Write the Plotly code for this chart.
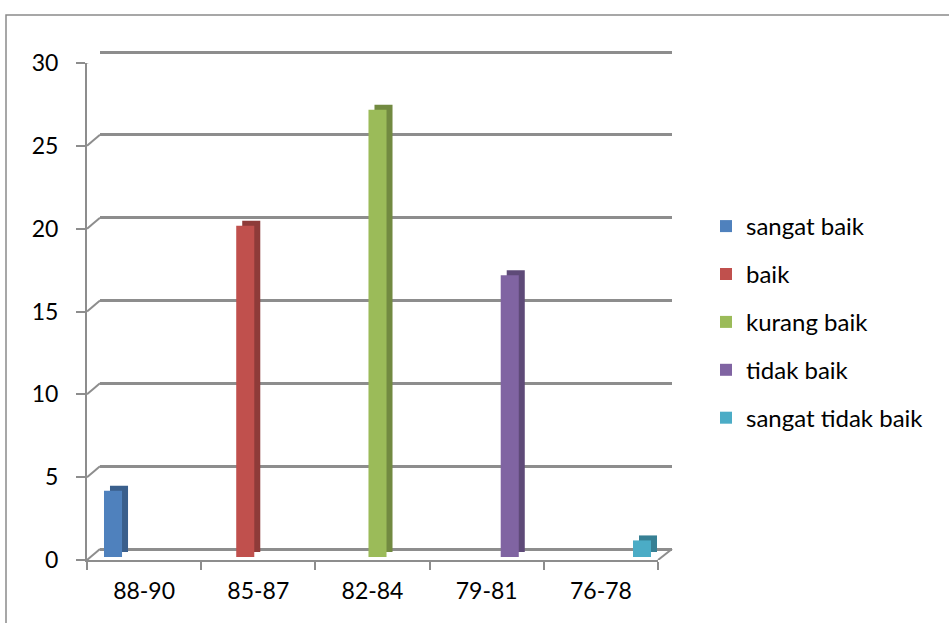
import plotly.graph_objects as go

# Score ranges and counts per rating
categories = ["88-90", "85-87", "82-84", "79-81", "76-78"]
series_names = ["sangat baik", "baik", "kurang baik", "tidak baik", "sangat tidak baik"]
sangat_baik = [4, None, None, None, None]
baik = [None, 20, None, None, None]
kurang_baik = [None, None, 27, None, None]
tidak_baik = [None, None, None, 17, None]
sangat_tidak_baik = [None, None, None, None, 1]
y_ticks = [0, 5, 10, 15, 20, 25, 30]

series_values = [sangat_baik, baik, kurang_baik, tidak_baik, sangat_tidak_baik]
face_colors = ["#4f81bd", "#c0504d", "#9bbb59", "#8064a2", "#4bacc6"]
side_colors = ["#3a5f8c", "#8e3b39", "#728a41", "#5e4a78", "#378094"]

W, H = 949, 623
FONT = "Lato"
GRID = "#8d8d8d"


def xdom(left, right):
    return [left / W, right / W]


def ydom(bottom_px, top_px):
    return [(H - bottom_px) / H, (H - top_px) / H]


fig = go.Figure()

# back wall grid subplot
fig.add_trace(go.Scatter(x=[], y=[], xaxis="x2", yaxis="y2", showlegend=False, hoverinfo="skip"))

# darker side/top faces of the columns (drawn behind, shifted right and up)
for name, vals, col in zip(series_names, series_values, side_colors):
    fig.add_trace(go.Bar(x=categories, y=vals, name=name, marker=dict(color=col, line=dict(width=0)),
                         xaxis="x3", yaxis="y3", showlegend=False, hoverinfo="skip"))

# front faces of the columns
for name, vals, col in zip(series_names, series_values, face_colors):
    fig.add_trace(go.Bar(x=categories, y=vals, name=name, marker=dict(color=col, line=dict(width=0)),
                         xaxis="x4", yaxis="y4", legendgroup=name))

# front axes holding ticks and labels
fig.add_trace(go.Scatter(x=categories, y=[None] * 5, xaxis="x", yaxis="y", showlegend=False, hoverinfo="skip"))

tickfont = dict(family=FONT, size=23, color="#000000")
hidden = dict(visible=False, showgrid=False, zeroline=False, fixedrange=True, automargin=False)

# back wall scale padded a little so the top gridline is kept
pad = 0.1
px_per_unit = (549 - 52) / 30

fig.update_layout(
    width=W, height=H,
    margin=dict(l=0, r=0, t=0, b=0, autoexpand=False),
    paper_bgcolor="white",
    plot_bgcolor="rgba(0,0,0,0)",
    barmode="group",
    bargap=0.21,
    bargroupgap=0,
    showlegend=True,
    legend=dict(
        x=706 / W, y=(H - 204) / H, xanchor="left", yanchor="top",
        font=dict(family=FONT, size=24, color="#000000"),
        tracegroupgap=13.7, traceorder="grouped",
        bgcolor="rgba(0,0,0,0)",
    ),
    xaxis=dict(
        domain=xdom(87, 658), anchor="y", type="category", range=[-0.5, 4.5],
        showline=True, linecolor=GRID, linewidth=2,
        ticks="outside", tickson="boundaries", ticklen=8, tickwidth=2, tickcolor=GRID,
        tickfont=tickfont, ticklabelstandoff=9, showgrid=False, zeroline=False,
        fixedrange=True, automargin=False,
    ),
    yaxis=dict(
        domain=ydom(560, 63), anchor="x", range=[0, 30], tickvals=y_ticks,
        showline=True, linecolor=GRID, linewidth=2,
        ticks="outside", ticklen=9, tickwidth=2, tickcolor=GRID,
        tickfont=tickfont, ticklabelstandoff=13, showgrid=False, zeroline=False,
        fixedrange=True, automargin=False,
    ),
    xaxis2=dict(domain=xdom(100, 672), anchor="y2", range=[0, 1], **hidden),
    yaxis2=dict(domain=ydom(549 + pad * px_per_unit, 52 - pad * px_per_unit), anchor="x2",
                range=[-pad, 30 + pad], tickvals=y_ticks,
                visible=True, showticklabels=False, ticks="", showline=False,
                showgrid=True, gridcolor=GRID, gridwidth=2.5, zeroline=False,
                fixedrange=True, automargin=False),
    xaxis3=dict(domain=xdom(98, 669), anchor="y3", type="category", range=[-0.5, 4.5], **hidden),
    yaxis3=dict(domain=ydom(552, 55), anchor="x3", range=[0, 30], **hidden),
    xaxis4=dict(domain=xdom(92, 663), anchor="y4", type="category", range=[-0.5, 4.5], **hidden),
    yaxis4=dict(domain=ydom(557, 60), anchor="x4", range=[0, 30], **hidden),
)

# perspective connectors from the front axis to the back wall gridlines
shapes = []
for v in y_ticks:
    shapes.append(dict(type="line", xref="x domain", xsizemode="pixel", xanchor=0, x0=0, x1=13,
                       yref="y", ysizemode="pixel", yanchor=v, y0=0, y1=11,
                       line=dict(color=GRID, width=2), layer="below"))
# right edge of the floor
shapes.append(dict(type="line", xref="x domain", xsizemode="pixel", xanchor=1, x0=0, x1=14,
                   yref="y", ysizemode="pixel", yanchor=0, y0=0, y1=11,
                   line=dict(color=GRID, width=2), layer="below"))
# chart area frame
shapes.append(dict(type="rect", xref="paper", yref="paper", x0=6 / W, x1=1.02, y0=-0.02, y1=(H - 15) / H,
                   line=dict(color="#8a8a8a", width=1.5), fillcolor="rgba(0,0,0,0)", layer="below"))
fig.update_layout(shapes=shapes)

fig.write_html("out.html")
